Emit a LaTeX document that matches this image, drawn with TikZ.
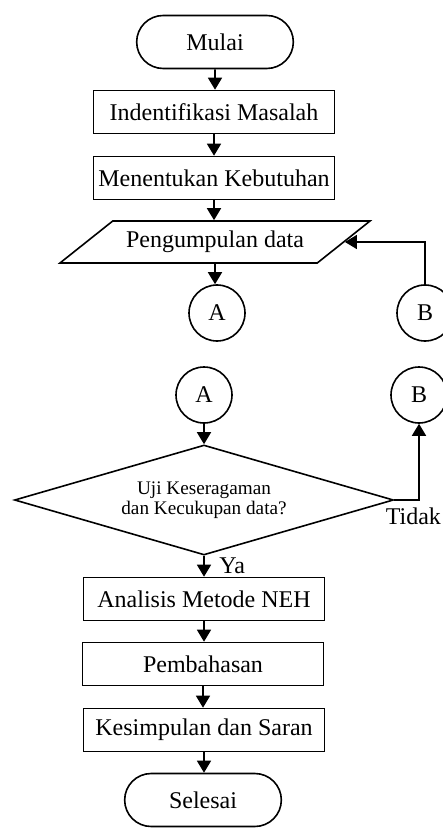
\documentclass[tikz,border=0pt]{standalone}
\usepackage{fontspec}
\setmainfont{Liberation Serif}
\usetikzlibrary{shapes.geometric,shapes.misc,arrows.meta}

\tikzset{
    terminal/.style={draw, rounded rectangle, minimum width=85pt, minimum height=26.5pt},
    process/.style={draw, rectangle, inner xsep=2pt, minimum width=120.5pt, minimum height=21.5pt},
    data/.style={draw, trapezium, trapezium left angle=33.7, trapezium right angle=146.3,
        trapezium stretches body=true, minimum width=155pt, minimum height=21pt},
    decision/.style={draw, diamond, inner sep=0pt, shape aspect=3.45, minimum width=189.5pt,
        minimum height=55pt, align=center, font=\fontsize{9.6}{10}\selectfont},
    connector/.style={draw, circle, inner sep=0pt, minimum size=28pt},
    arrow/.style={-{Triangle[width=7pt,length=6pt]}}
}

\begin{document}
\begin{tikzpicture}[x=0.5pt, y=-0.5pt, line width=0.8pt, font=\fontsize{12}{14}\selectfont]
    \useasboundingbox (0,0) rectangle (443,828);

    \node[terminal] (mulai) at (215,42) {Mulai};
    \node[process] (identifikasi) at (214,112) {Indentifikasi Masalah};
    \node[process] (kebutuhan) at (214,178) {Menentukan Kebutuhan};
    \node[data] (pengumpulan) at (215,242) {Pengumpulan data};
    \node[connector] (a1) at (217,313) {A};
    \node[connector] (b1) at (425,313) {B};

    \node[connector] (a2) at (204,395) {A};
    \node[connector] (b2) at (419,395) {B};
    \node[decision] (uji) at (204,500) {Uji Keseragaman\\dan Kecukupan data?};
    \node[process] (analisis) at (204,599) {Analisis Metode NEH};
    \node[process] (pembahasan) at (203,664) {Pembahasan};
    \node[process] (kesimpulan) at (204,730) {Kesimpulan dan Saran};
    \node[terminal] (selesai) at (203,800) {Selesai};

    \foreach \a/\b in {mulai/identifikasi, identifikasi/kebutuhan, kebutuhan/pengumpulan,
        pengumpulan/a1, a2/uji, analisis/pembahasan, pembahasan/kesimpulan, kesimpulan/selesai} {
        \draw[arrow] (\a) -- (\a |- \b.north);
    }

    \draw[arrow] (b1) |- (pengumpulan);
    \draw[arrow] (uji.south) -- (analisis.north) node[midway, right=4pt] {Ya};
    \draw[arrow] (uji.east) -| (b2) node[at start, below right, xshift=-8pt] {Tidak};
\end{tikzpicture}
\end{document}
